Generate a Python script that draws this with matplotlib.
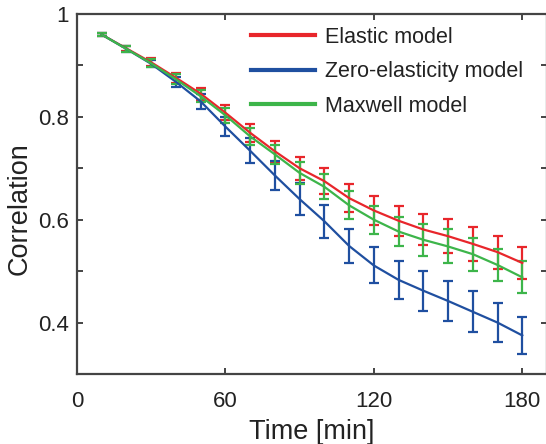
import numpy as np
import matplotlib
matplotlib.use('Agg')
import matplotlib.pyplot as plt
from matplotlib.lines import Line2D

plt.rcParams['font.family'] = ['Liberation Sans', 'DejaVu Sans']

# time points [min]
time = [10, 20, 30, 40, 50, 60, 70, 80, 90, 100, 110, 120, 130, 140, 150, 160, 170, 180]

# mean correlation for each model
elastic = [0.960, 0.933, 0.906, 0.876, 0.845, 0.808, 0.769, 0.733, 0.700, 0.675,
           0.642, 0.618, 0.598, 0.581, 0.568, 0.553, 0.537, 0.516]
zero_elastic = [0.960, 0.932, 0.903, 0.868, 0.830, 0.781, 0.734, 0.686, 0.640, 0.597,
                0.549, 0.511, 0.483, 0.462, 0.442, 0.421, 0.400, 0.375]
maxwell = [0.960, 0.932, 0.904, 0.873, 0.840, 0.803, 0.762, 0.727, 0.691, 0.664,
           0.628, 0.600, 0.577, 0.561, 0.548, 0.533, 0.512, 0.488]

# error bar half-widths
elastic_err = [0.003, 0.005, 0.008, 0.010, 0.012, 0.015, 0.018, 0.020, 0.022, 0.025,
               0.027, 0.028, 0.029, 0.031, 0.033, 0.033, 0.032, 0.031]
zero_elastic_err = [0.003, 0.005, 0.007, 0.010, 0.014, 0.018, 0.024, 0.028, 0.031, 0.032,
                    0.033, 0.035, 0.037, 0.039, 0.039, 0.040, 0.038, 0.036]
maxwell_err = [0.003, 0.005, 0.008, 0.010, 0.012, 0.015, 0.017, 0.019, 0.021, 0.024,
               0.027, 0.027, 0.029, 0.031, 0.033, 0.032, 0.032, 0.031]

red = '#e8262b'
blue = '#1f4fa0'
green = '#3db54a'

fig = plt.figure(figsize=(5.46, 4.44), dpi=100)
ax = fig.add_axes([77 / 546, 70 / 444, 470 / 546, 360 / 444])

series = [
    (elastic, elastic_err, red, 'Elastic model'),
    (zero_elastic, zero_elastic_err, blue, 'Zero-elasticity model'),
    (maxwell, maxwell_err, green, 'Maxwell model'),
]
handles = []
for vals, err, col, lab in series:
    ax.errorbar(time, vals, yerr=err, color=col, lw=1.6, elinewidth=1.6,
                capsize=3.5, capthick=1.6)
    handles.append(Line2D([], [], color=col, lw=3, label=lab))

ax.set_xlim(0, 190)
ax.set_ylim(0.3, 1.0)
ax.set_xticks([0, 60, 120, 180])
ax.set_yticks([0.4, 0.5, 0.6, 0.7, 0.8, 0.9, 1.0])
ax.set_yticklabels(['0.4', '', '0.6', '', '0.8', '', '1'])

ax.tick_params(direction='in', length=4, width=1.4, color='#444444',
               top=True, right=True, labelsize=16, labelcolor='#222222')
ax.tick_params(axis='x', pad=12)
ax.tick_params(axis='y', pad=6)
for sp in ax.spines.values():
    sp.set_linewidth(1.6)
    sp.set_color('#444444')

ax.set_xlabel('Time [min]', fontsize=19.5, color='#222222', labelpad=5)
ax.set_ylabel('Correlation', fontsize=19.5, color='#222222')
ax.yaxis.set_label_coords(-0.094, 0.458)

leg = ax.legend(handles=handles, loc='upper left',
                bbox_to_anchor=(251 / 546, 1 - 27 / 444),
                bbox_transform=fig.transFigure, frameon=False, fontsize=15.5,
                handlelength=2.95, handletextpad=0.5, labelspacing=0.62,
                borderpad=0, borderaxespad=0)
for t in leg.get_texts():
    t.set_color('#222222')

fig.savefig('out.png', dpi=100)
